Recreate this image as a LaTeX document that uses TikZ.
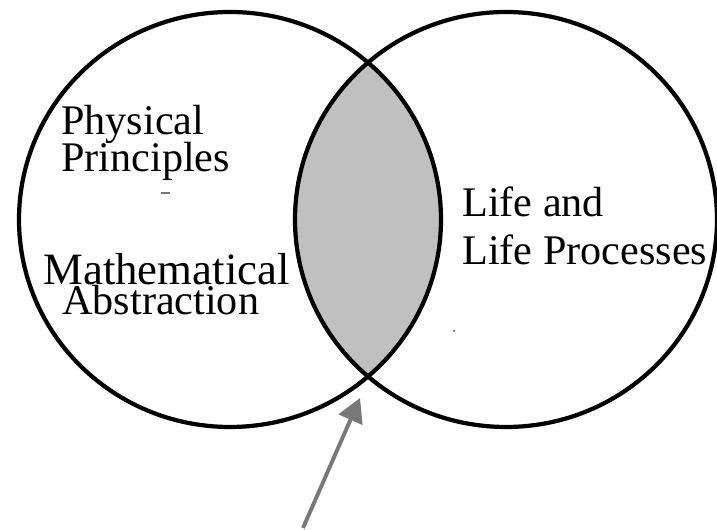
\documentclass[tikz,border=0pt]{standalone}
\usepackage{fontspec}
\setmainfont{Liberation Serif}
\usepackage{xcolor}
\usepackage{tikz}
\usetikzlibrary{arrows.meta,positioning}

\definecolor{lensgray}{HTML}{C0C0C0}
\definecolor{arrowgray}{HTML}{787878}

\begin{document}
\begin{tikzpicture}[
  set/.style={line width=2.4pt},
  lbl/.style={font=\fontsize{24}{24}\selectfont,inner sep=0pt,anchor=base west}]
\useasboundingbox (0,0) rectangle (14.34,10.6);

\begin{scope}
\clip (4.60,6.21) ellipse [x radius=4.22,y radius=4.15];
\fill[lensgray] (10.12,6.21) ellipse [x radius=4.22,y radius=4.15];
\end{scope}

\draw[set] (4.60,6.21) ellipse [x radius=4.22,y radius=4.15];
\draw[set] (10.12,6.21) ellipse [x radius=4.22,y radius=4.15];

\node[lbl] (phys) at (1.22,7.90) {Physical};
\node[lbl] (princ) at (1.22,7.166) {Principles};
\node[lbl,font=\fontsize{25.5}{25.5}\selectfont] (math) at (0.86,4.90) {Mathematical};
\node[lbl] (abstr) at (1.24,4.30) {Abstraction};
\node[lbl] (life) at (9.24,6.26) {Life and};
\node[lbl] (proc) at (9.24,5.30) {Life Processes};

\draw[arrowgray,line width=1pt] (3.22,6.74) -- (3.40,6.74);
\fill[arrowgray] (9.08,3.98) circle (0.025);

\coordinate (tail) at (6.06,0.04);
\coordinate (tip) at (7.20,2.64);
\draw[arrowgray,line width=2.2pt,-{Triangle[length=13.5pt,width=14.5pt]}] (tail) -- (tip);
\end{tikzpicture}
\end{document}
